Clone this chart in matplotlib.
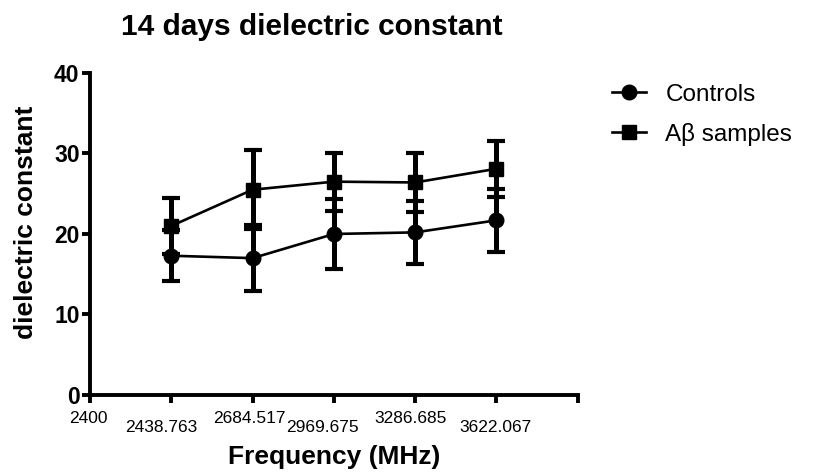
import numpy as np
import matplotlib
matplotlib.use('Agg')
import matplotlib.pyplot as plt
import matplotlib.transforms as mtransforms

plt.rcParams['font.family'] = ['Liberation Sans', 'DejaVu Sans']

freq_labels = ['2400', '2438.763', '2684.517', '2969.675', '3286.685', '3622.067']
controls = [17.3, 17.0, 20.0, 20.2, 21.7]
controls_err = [3.2, 4.1, 4.3, 3.9, 3.9]
abeta = [21.0, 25.5, 26.5, 26.4, 28.1]
abeta_err = [3.5, 4.9, 3.6, 3.7, 3.5]

# small horizontal nudges (px) of the tick labels, as in the original layout
label_shift = [-2, -10, -3, -11, -5, -1]

x = np.arange(1, len(controls) + 1)

fig = plt.figure(figsize=(8.13, 4.75), dpi=100)
ax = fig.add_axes([0.1107, 0.1684, 0.6, 0.678])

lw = 2.8
eb1 = ax.errorbar(x, controls, yerr=controls_err, color='black', marker='o', ms=10.5,
                  lw=1.9, elinewidth=3.6, capsize=6.5, capthick=3.0)
eb2 = ax.errorbar(x, abeta, yerr=abeta_err, color='black', marker='s', ms=10,
                  lw=1.9, elinewidth=3.6, capsize=6.5, capthick=3.0)

ax.set_xlim(0, 6)
ax.set_ylim(0, 40)
ax.set_yticks([0, 10, 20, 30, 40])
for s in ['top', 'right']:
    ax.spines[s].set_visible(False)
for s in ['left', 'bottom']:
    ax.spines[s].set_linewidth(lw)

# staggered x labels: upper row on major ticks, lower row on minor ticks
ax.set_xticks([0, 2, 4, 6])
ax.set_xticklabels([freq_labels[0], freq_labels[2], freq_labels[4], ''])
ax.set_xticks([1, 3, 5], minor=True)
ax.set_xticklabels([freq_labels[1], freq_labels[3], freq_labels[5]], minor=True)
ax.tick_params(axis='x', which='major', length=5.5, width=lw, pad=6, labelsize=12.5)
ax.tick_params(axis='x', which='minor', length=5.5, width=lw, pad=12.5, labelsize=12.5)
ax.tick_params(axis='y', length=5.5, width=lw, pad=2, labelsize=16.5)
for t in ax.get_yticklabels():
    t.set_fontweight('bold')

ticklabs = ax.get_xticklabels()[:3] + ax.get_xticklabels(minor=True)
order = [0, 2, 4, 1, 3, 5]
for t, i in zip(ticklabs, order):
    t.set_transform(t.get_transform() + mtransforms.ScaledTranslation(label_shift[i] / 100, 0, fig.dpi_scale_trans))

fig.text(312 / 813, 1 - 27 / 475, '14 days dielectric constant', fontsize=21.5,
         fontweight='bold', ha='center', va='center')
ax.set_xlabel('Frequency (MHz)', fontsize=19, fontweight='bold')
ax.xaxis.set_label_coords(0.5, -(457 - 395) / 322, transform=ax.transAxes)
ax.xaxis.label.set_va('center')
ax.set_ylabel('dielectric constant', fontsize=19, fontweight='bold')
ax.yaxis.set_label_coords(-(90 - 26) / 488, (395 - 222) / 322, transform=ax.transAxes)
ax.yaxis.label.set_va('center')

ax.legend([eb1.lines[0], eb2.lines[0]], ['Controls', 'A\u03b2 samples'],
          loc='upper left', bbox_to_anchor=(590 / 813, 1 - 62 / 475),
          bbox_transform=fig.transFigure, frameon=False, fontsize=17.5,
          handlelength=1.4, handletextpad=0.8, labelspacing=0.7)

fig.savefig('out.png', dpi=100)
